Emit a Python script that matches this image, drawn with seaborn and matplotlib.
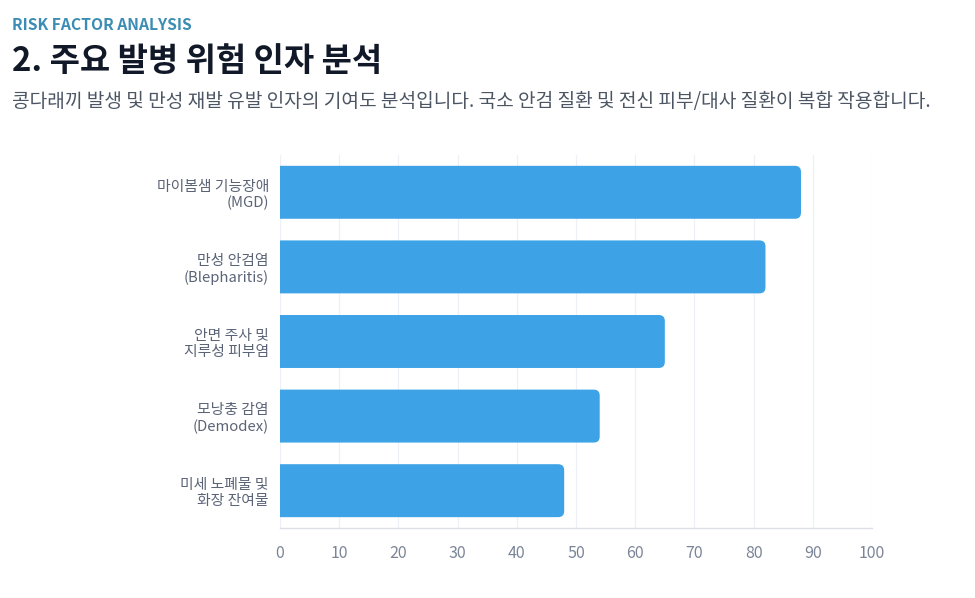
import matplotlib
matplotlib.use("Agg")
import matplotlib.pyplot as plt
from matplotlib.patches import FancyBboxPatch
import pandas as pd
import seaborn as sns

# --- Data ---
factors = [
    "마이봄샘 기능장애\n(MGD)",
    "만성 안검염\n(Blepharitis)",
    "안면 주사 및\n지루성 피부염",
    "모낭충 감염\n(Demodex)",
    "미세 노폐물 및\n화장 잔여물",
]
scores = [88, 82, 65, 54, 48]
x_ticks = [0, 10, 20, 30, 40, 50, 60, 70, 80, 90, 100]

BAR_COLOR = "#3ea3e6"
FONT = ["Noto Sans CJK KR", "DejaVu Sans"]

sns.set_style("white")
plt.rcParams["font.family"] = FONT

df = pd.DataFrame({"factor": factors, "score": scores})

fig = plt.figure(figsize=(9.75, 5.98), dpi=100)
ax = fig.add_axes([0.2872, 0.1171, 0.6072, 0.6237])

sns.barplot(data=df, x="score", y="factor", color=BAR_COLOR, width=0.71,
            saturation=1, ax=ax, zorder=3)

# swap the flat bars for bars with rounded right corners
x_px = 592 / 100
y_px = 373 / 5
for p in list(ax.patches):
    x, y = p.get_x(), p.get_y()
    w, h = p.get_width(), p.get_height()
    p.set_visible(False)
    r = 6 / x_px
    ax.add_patch(FancyBboxPatch(
        (x - 2 * r, y), w + 2 * r, h,
        boxstyle=f"round,pad=0,rounding_size={r}",
        mutation_aspect=x_px / y_px,
        facecolor=BAR_COLOR, edgecolor="none", zorder=3, clip_on=True))

ax.set_xlim(0, 100)
ax.set_ylim(4.5, -0.5)
ax.set_xticks(x_ticks)
ax.set_xlabel("")
ax.set_ylabel("")
ax.grid(axis="x", color="#edf0f5", linewidth=0.9, zorder=0)
ax.grid(axis="y", visible=False)
for side in ["top", "right", "left"]:
    ax.spines[side].set_visible(False)
ax.spines["bottom"].set_color("#dcdfe6")
ax.spines["bottom"].set_linewidth(1.0)
ax.tick_params(axis="x", colors="#dcdfe6", length=4, width=0.9, pad=8,
               labelcolor="#7b8598", labelsize=11.5)
ax.tick_params(axis="y", length=0, pad=8, labelcolor="#5b6477", labelsize=10.7)
for lab in ax.get_yticklabels():
    lab.set_horizontalalignment("right")
    lab.set_multialignment("right")
    lab.set_linespacing(1.2)

# --- Header text ---
fig.text(12 / 975, 1 - 25 / 598, "RISK FACTOR ANALYSIS", fontsize=11.3,
         fontweight="bold", color="#3b8db3", va="center", ha="left")
fig.text(12 / 975, 1 - 62 / 598, "2. 주요 발병 위험 인자 분석", fontsize=23.7,
         fontweight="bold", color="#111827", va="center", ha="left")
fig.text(12 / 975, 1 - 102 / 598,
         "콩다래끼 발생 및 만성 재발 유발 인자의 기여도 분석입니다. 국소 안검 질환 및 전신 피부/대사 질환이 복합 작용합니다.",
         fontsize=13.8, color="#4b5563", va="center", ha="left")

fig.savefig("out.png", dpi=100, facecolor="white")
